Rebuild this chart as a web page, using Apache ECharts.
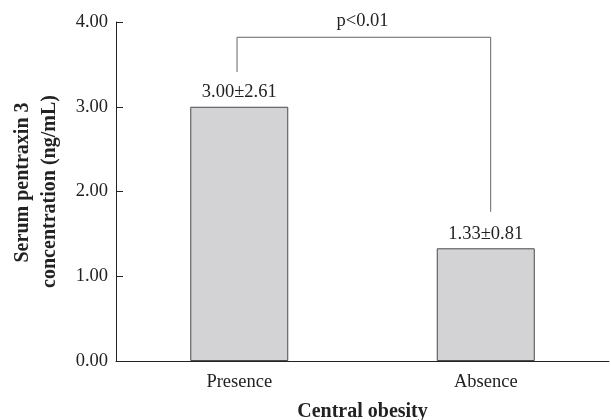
<!DOCTYPE html>
<html>
<head>
<meta charset="utf-8">
<script src="https://cdn.jsdelivr.net/npm/echarts@6/dist/echarts.min.js"></script>
<style>html,body{margin:0;padding:0;background:#fff;}#c{width:611px;height:420px;}</style>
</head>
<body>
<div id="c"></div>
<script>
var categories = ['Presence', 'Absence'];
var means = [3.00, 1.33];
var sds = [2.61, 0.81];
var yTicks = [0, 1, 2, 3, 4];
var bracketX = [0.491, 0.491, 1.520, 1.520];
var bracketY = [3.41, 3.82, 3.82, 1.76];
var pLabel = 'p<0.01';
var pPoint = [1.0, 3.82];
var yNameLines = ['Serum pentraxin 3', 'concentration (ng/mL)'];
var xName = 'Central obesity';

var FONT = '"Liberation Serif", "Times New Roman", serif';
var nameStyle = { fontFamily: FONT, fontWeight: 'bold', fontSize: 20, color: '#222', lineHeight: 27 };
var chart = echarts.init(document.getElementById('c'));
chart.setOption({
  animation: false,
  grid: { left: 116, right: 2, top: 22, bottom: 59, containLabel: false, outerBoundsMode: 'none' },
  xAxis: [{
    type: 'category',
    data: categories,
    name: xName,
    nameLocation: 'middle',
    nameGap: 41,
    nameTextStyle: { fontFamily: FONT, fontWeight: 'bold', fontSize: 20, color: '#222' },
    axisLine: { lineStyle: { color: '#222', width: 1 } },
    axisTick: { inside: true, length: 7, lineStyle: { color: '#222' } },
    axisLabel: { fontFamily: FONT, fontSize: 18.5, color: '#222', margin: 12 }
  }, {
    type: 'value', min: 0, max: 2, show: false
  }],
  yAxis: {
    type: 'value',
    min: yTicks[0], max: yTicks[yTicks.length - 1], interval: 1,
    name: '{a|' + yNameLines[0] + '}\n{b|' + yNameLines[1] + '}',
    nameLocation: 'middle',
    nameGap: 53,
    nameTextStyle: Object.assign({}, nameStyle, {
      rich: {
        a: Object.assign({}, nameStyle, { padding: [0, 0, 0, 18] }),
        b: Object.assign({}, nameStyle)
      }
    }),
    axisLine: { show: true, lineStyle: { color: '#222', width: 1 } },
    axisTick: { show: true, inside: true, length: 7, lineStyle: { color: '#222' } },
    splitLine: { show: false },
    axisLabel: { fontFamily: FONT, fontSize: 18.5, color: '#222', margin: 8, formatter: function (v) { return v.toFixed(2); } }
  },
  series: [{
    type: 'bar',
    xAxisIndex: 0,
    data: means,
    barWidth: 98,
    itemStyle: { color: '#d3d3d5', borderColor: '#4a4a4a', borderWidth: 1 },
    label: {
      show: true, position: 'top', distance: 5,
      fontFamily: FONT, fontSize: 18.5, color: '#222',
      formatter: function (p) { return means[p.dataIndex].toFixed(2) + '\u00b1' + sds[p.dataIndex].toFixed(2); }
    }
  }, {
    type: 'line',
    xAxisIndex: 1,
    data: bracketX.map(function (x, i) { return [x, bracketY[i]]; }),
    symbol: 'none',
    lineStyle: { color: '#666', width: 1 },
    silent: true
  }, {
    type: 'scatter',
    xAxisIndex: 1,
    data: [pPoint],
    symbolSize: 0,
    itemStyle: { color: 'rgba(0,0,0,0)', opacity: 1 },
    label: { show: true, position: 'top', distance: 7, fontFamily: FONT, fontSize: 18.5, color: '#222', opacity: 1, formatter: pLabel },
    silent: true
  }]
});
</script>
</body>
</html>
